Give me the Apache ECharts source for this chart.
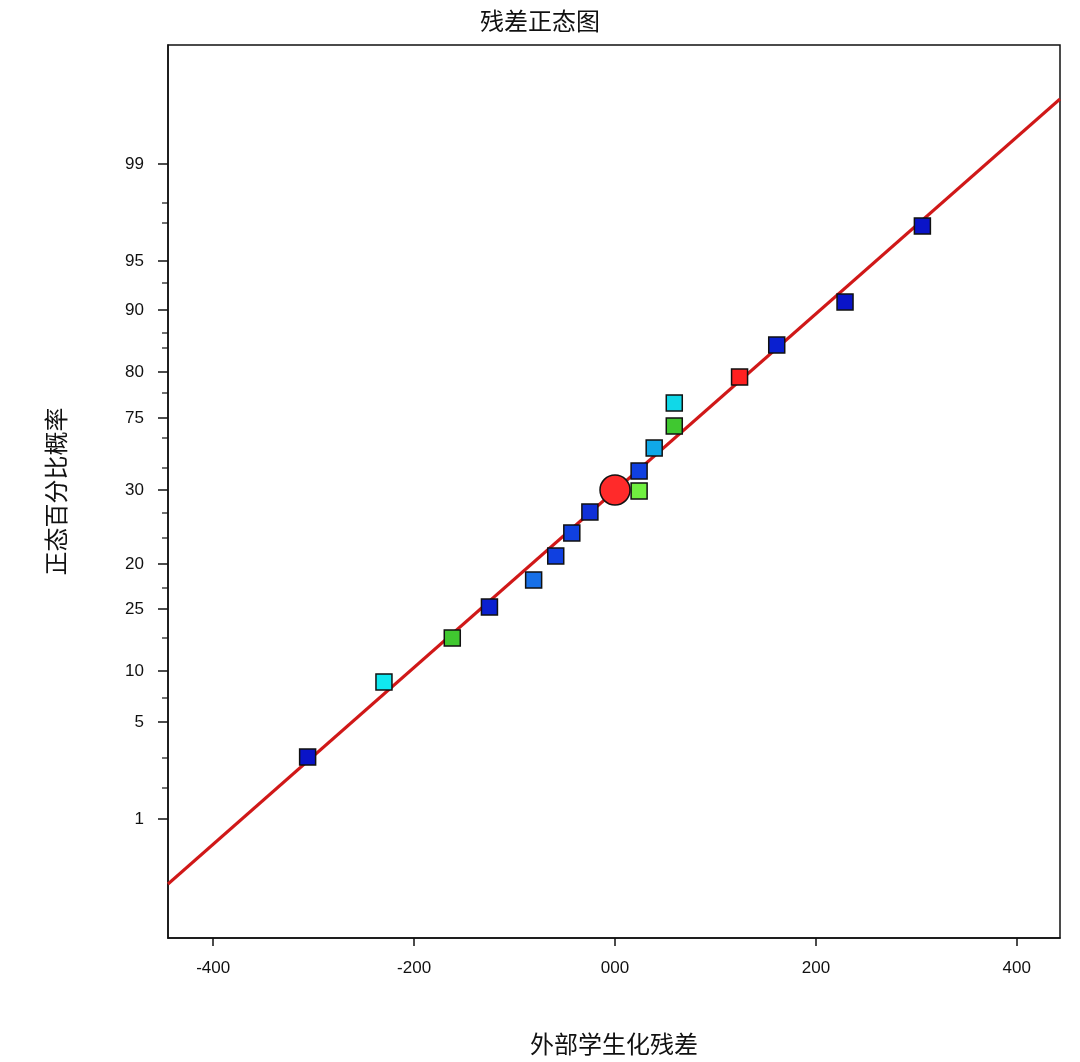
<!DOCTYPE html>
<html><head><meta charset="utf-8">
<script src="https://cdn.jsdelivr.net/npm/echarts@6/dist/echarts.min.js"></script>
<style>html,body{margin:0;background:#fff}#c{width:1080px;height:1062px}</style>
</head><body><div id="c"></div>
<script>
// 残差 (x) 与 正态位置 (y, 以绘图坐标的高度表示)
const resid = [-306, -230, -162, -125, -81, -59, -43, -25, 24, 24, 39, 59, 59, 124, 161, 229, 306];
const pos   = [181, 256, 300, 331, 358, 382, 405, 426, 447, 467, 490, 512, 535, 561, 593, 636, 712];
const cols  = ['#0a14c8','#10e8f0','#40c830','#0a20d0','#1870e8','#1040e0','#1040e0','#1030d8',
               '#70f040','#1040e0','#10a8e8','#40c830','#10d8e8','#ff2020','#0a20d0','#0a14c8','#0a14c8'];
const centerPt = [0, 448];
const fitLine = [[-445, 54], [443, 839]];
const yTickLabels = ['99','95','90','80','75','30','20','25','10','5','1'];
const yTickPos = [774, 677, 628, 566, 520, 448, 374, 329, 267, 216, 119];
const yMinorPos = [735, 715, 655, 605, 590, 545, 500, 470, 425, 400, 350, 300, 240, 180, 150];

const chart = echarts.init(document.getElementById('c'));
const font = '"Noto Sans CJK SC", sans-serif';
chart.setOption({
  title: {text: '残差正态图', left: 'center', top: 4, textStyle: {fontSize: 24, fontWeight: 'normal', color: '#111', fontFamily: font}},
  grid: {left: 168, right: 20, top: 45, bottom: 124, show: true, borderColor: '#111', borderWidth: 1.5},
  xAxis: {type: 'value', min: -445, max: 443, name: '外部学生化残差', nameLocation: 'middle', nameGap: 94,
    nameTextStyle: {fontSize: 24, color: '#111', fontFamily: font},
    axisLine: {onZero: false, lineStyle: {color: '#111', width: 1.5}}, splitLine: {show: false},
    axisLabel: {fontSize: 17, color: '#111', margin: 22, customValues: [-400,-200,0,200,400], formatter: v => v === 0 ? '000' : String(v)},
    axisTick: {customValues: [-400,-200,0,200,400], length: 8, lineStyle: {color: '#111', width: 1.5}}},
  yAxis: {type: 'value', min: 0, max: 893, name: '正态百分比概率', nameLocation: 'middle', nameGap: 100,
    nameTextStyle: {fontSize: 24, color: '#111', fontFamily: font},
    axisLine: {onZero: false, lineStyle: {color: '#111', width: 1.5}}, splitLine: {show: false},
    axisTick: {show: false}, axisLabel: {show: false}},
  series: [
    {type: 'line', data: fitLine, symbol: 'none', lineStyle: {color: '#d01818', width: 3}, z: 1},
    {type: 'scatter', data: yTickPos.map((p, i) => [-445, p, yTickLabels[i]]), symbol: 'rect', symbolSize: [10, 1.5],
      symbolOffset: [-5, 0], itemStyle: {color: '#111', opacity: 1}, clip: false, silent: true,
      label: {show: true, position: 'left', distance: 14, fontSize: 17, color: '#111', formatter: p => p.data[2]}},
    {type: 'scatter', data: yMinorPos.map(p => [-445, p]), symbol: 'rect', symbolSize: [6, 1.2],
      symbolOffset: [-3, 0], itemStyle: {color: '#111', opacity: 1}, clip: false, silent: true},
    {type: 'scatter', data: resid.map((x, i) => ({value: [x, pos[i]], itemStyle: {color: cols[i]}})),
      symbol: 'rect', symbolSize: 16, itemStyle: {borderColor: '#111', borderWidth: 1.5, opacity: 1}, z: 3},
    {type: 'scatter', data: [centerPt], symbol: 'circle', symbolSize: 30,
      itemStyle: {color: '#ff2a2a', borderColor: '#111', borderWidth: 1.5, opacity: 1}, z: 4}
  ]
});
</script></body></html>
